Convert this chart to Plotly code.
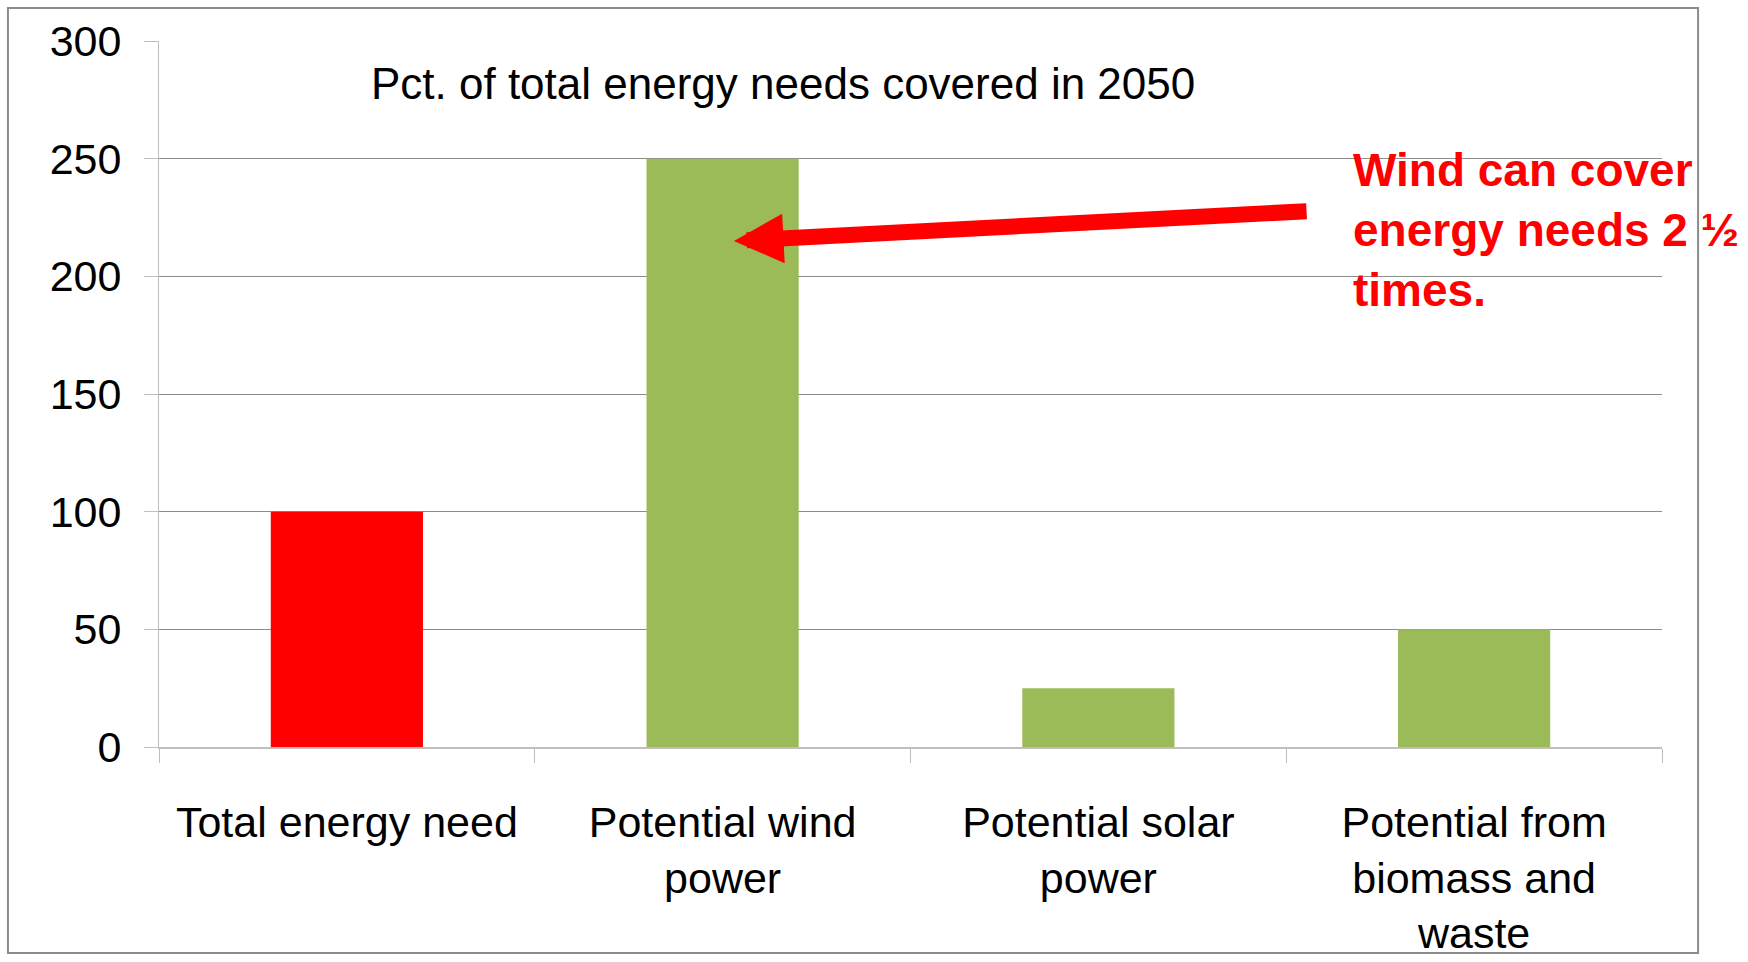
import plotly.graph_objects as go

categories = ["Total energy need", "Potential wind power", "Potential solar power",
              "Potential from biomass and waste"]
tick_labels = ["Total energy need", "Potential wind<br>power", "Potential solar<br>power",
               "Potential from<br>biomass and<br>waste"]
values = [100, 250, 25, 50]
bar_colors = ["#FF0000", "#9BBB59", "#9BBB59", "#9BBB59"]
y_ticks = [0, 50, 100, 150, 200, 250, 300]

title_text = "Pct. of total energy needs covered in 2050"
note_text = "Wind can cover<br>energy needs 2 ½<br>times."

FONT = "Liberation Sans, Arial, sans-serif"

fig = go.Figure()
fig.add_trace(go.Bar(
    x=categories, y=values, marker=dict(color=bar_colors, line=dict(width=0)),
    width=0.405, showlegend=False,
))

fig.update_layout(
    width=1748, height=962,
    margin=dict(l=159, r=86, t=41, b=215, autoexpand=False),
    paper_bgcolor="white", plot_bgcolor="rgba(0,0,0,0)",
    font=dict(family=FONT, color="black"),
    title=dict(text=title_text, x=0.448, y=0.913, xanchor="center", yanchor="middle",
               font=dict(size=44, family=FONT, color="black")),
    xaxis=dict(
        type="category", tickvals=categories, ticktext=tick_labels, automargin=False,
        tickfont=dict(size=43, family=FONT), showline=True, linecolor="#BFBFBF", linewidth=2,
        ticks="outside", tickson="boundaries", ticklen=14, tickcolor="#BFBFBF", tickwidth=1,
        showgrid=False, zeroline=False, ticklabelstandoff=36,
    ),
    yaxis=dict(
        range=[0, 300], tickvals=y_ticks, tickfont=dict(size=43, family=FONT), automargin=False,
        showgrid=True, gridcolor="#8C8C8C", gridwidth=1,
        showline=True, linecolor="#BFBFBF", linewidth=1,
        ticks="outside", ticklen=14, tickcolor="#BFBFBF", zeroline=False,
        ticklabelstandoff=14,
    ),
)

# arrow
fig.add_annotation(
    x=1.03, y=215, ax=2.558, ay=227.7, xref="x", yref="y", axref="x", ayref="y",
    text="", showarrow=True, arrowhead=2, arrowsize=0.62, arrowwidth=16,
    arrowcolor="#FF0000", standoff=0,
)

# red note
fig.add_annotation(
    x=0.793, y=0.733, xref="paper", yref="paper", xanchor="left", yanchor="middle",
    text=note_text, showarrow=False, align="left",
    font=dict(size=46, family=FONT, color="#FF0000", weight="bold"),
)

# outer frame
fig.add_shape(
    type="rect", xref="paper", yref="paper",
    x0=-0.1005, x1=1.024, y0=-0.2918, y1=1.0467,
    line=dict(color="#8C8C8C", width=2), layer="below",
)

fig.write_html(
    "out.html",
    config={"displayModeBar": False},
    post_script="document.body.style.margin='0';document.body.style.overflow='hidden';",
)
